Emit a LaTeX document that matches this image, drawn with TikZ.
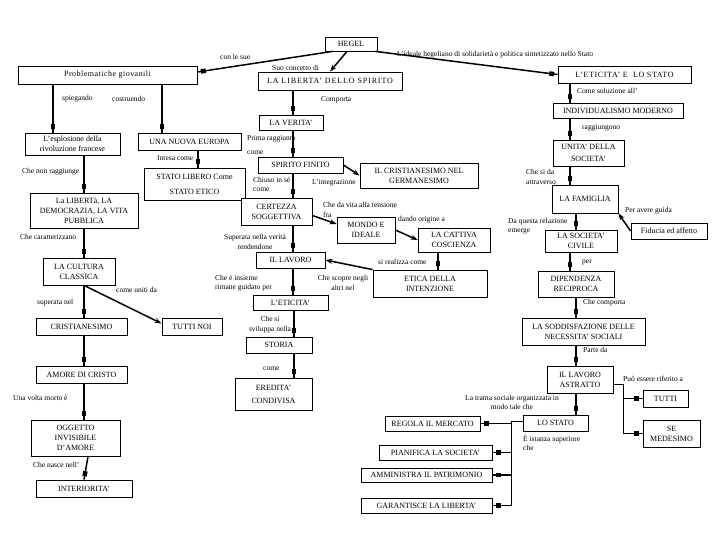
\documentclass[tikz,border=0pt]{standalone}
\usepackage{fontspec}
\setmainfont{Liberation Serif}
\usetikzlibrary{arrows.meta,decorations.markings}

\begin{document}
\begin{tikzpicture}[
        x=1pt, y=-1pt, % coordinate come pixel, y verso il basso
        box/.style={draw, line width=0.8pt, fill=white, align=center, inner sep=1pt,
            font=\fontsize{8}{10}\selectfont}, % Stile dei concetti
        spaced/.style={font=\fontsize{8}{10}\selectfont\addfontfeatures{LetterSpace=#1}},
        lab/.style={anchor=west, align=left, inner sep=0pt,
            font=\fontsize{7.5}{9.5}\selectfont}, % Frasi di collegamento
        link/.style={line width=1.5pt, postaction={decorate, decoration={markings,
            mark=at position -6pt with {\fill (-2.5pt,-2.2pt) rectangle (2.5pt,2.2pt);}}}},
        arr/.style={line width=1.5pt, -{Stealth[length=7pt,width=5pt]}},
        trunk/.style={line width=0.8pt},
    ]
    \fill[white] (0,0) rectangle (720,540);
    \useasboundingbox (0,0) rectangle (720,540);

    % concetti
    \node[box, minimum width=52pt, minimum height=14pt] (hegel) at (351,44) {HEGEL};
    \node[box, spaced=6, minimum width=179pt, minimum height=18pt] (prob) at (107.5,75) {Problematiche giovanili};
    \node[box, spaced=11, minimum width=144pt, minimum height=18pt] (libspirito) at (330,81) {LA LIBERTA' DELLO SPIRITO};
    \node[box, spaced=8, minimum width=133pt, minimum height=17pt] (eticstato) at (624.5,74.5) {L'ETICITA' E \ LO STATO};
    \node[box, minimum width=95pt, minimum height=22pt] (esplosione) at (72.5,144) {L'esplosione della\\rivoluzione francese};
    \node[box, minimum width=103pt, minimum height=17pt] (europa) at (189.5,141.5) {UNA NUOVA EUROPA};
    \node[box, minimum width=64pt, minimum height=15pt] (verita) at (291,122.5) {LA VERITA'};
    \node[box, minimum width=130pt, minimum height=15pt] (individ) at (618,110.5) {INDIVIDUALISMO MODERNO};
    \node[box, minimum width=71pt, minimum height=26pt] (unita) at (588.5,153) {UNITA' DELLA\\[2pt]SOCIETA'};
    \node[box, minimum width=101pt, minimum height=32pt] (statolibero) at (194.5,184) {STATO LIBERO Come\\[5pt]STATO ETICO};
    \node[box, minimum width=85pt, minimum height=16pt] (spiritofinito) at (300.5,165) {SPIRITO FINITO};
    \node[box, minimum width=118pt, minimum height=25pt] (germanesimo) at (419,175.5) {IL CRISTIANESIMO NEL\\GERMANESIMO};
    \node[box, minimum width=108pt, minimum height=35pt] (liberta) at (84,210.5) {La LIBERTà, LA\\DEMOCRAZIA, LA VITA\\PUBBLICA};
    \node[box, minimum width=71pt, minimum height=27pt] (certezza) at (276.5,211.5) {CERTEZZA\\SOGGETTIVA};
    \node[box, minimum width=58pt, minimum height=26pt] (mondo) at (366,230) {MONDO E\\IDEALE};
    \node[box, minimum width=72pt, minimum height=24pt] (cattiva) at (454,240) {LA CATTIVA\\COSCIENZA};
    \node[box, minimum width=66pt, minimum height=28pt] (famiglia) at (585,199) {LA FAMIGLIA};
    \node[box, minimum width=76pt, minimum height=16pt] (fiducia) at (669,231) {Fiducia ed affetto};
    \node[box, minimum width=72pt, minimum height=22pt] (civile) at (581,241) {LA SOCIETA'\\CIVILE};
    \node[box, minimum width=72pt, minimum height=27pt] (cultura) at (79,271.5) {LA CULTURA\\CLASSICA};
    \node[box, minimum width=69pt, minimum height=16pt] (lavoro) at (290.5,260) {IL LAVORO};
    \node[box, minimum width=114pt, minimum height=27pt] (etica) at (430,283.5) {ETICA DELLA\\INTENZIONE};
    \node[box, minimum width=76pt, minimum height=26pt] (dipendenza) at (576,284) {DIPENDENZA\\RECIPROCA};
    \node[box, minimum width=75pt, minimum height=15pt] (eticita) at (290.5,302.5) {L'ETICITA'};
    \node[box, minimum width=91pt, minimum height=17pt] (cristianesimo) at (81.5,326.5) {CRISTIANESIMO};
    \node[box, minimum width=60pt, minimum height=17pt] (tuttinoi) at (192,326.5) {TUTTI NOI};
    \node[box, minimum width=123pt, minimum height=27pt] (soddisfazione) at (583.5,331.5) {LA SODDISFAZIONE DELLE\\NECESSITA' SOCIALI};
    \node[box, minimum width=66pt, minimum height=16pt] (storia) at (279,345) {STORIA};
    \node[box, minimum width=91pt, minimum height=17pt] (amore) at (81.5,374.5) {AMORE DI CRISTO};
    \node[box, minimum width=66pt, minimum height=27pt] (astratto) at (580,379.5) {IL LAVORO\\ASTRATTO};
    \node[box, minimum width=77pt, minimum height=32pt] (eredita) at (273.5,394) {EREDITA'\\[3pt]CONDIVISA};
    \node[box, minimum width=45pt, minimum height=17pt] (tutti) at (665.5,398.5) {TUTTI};
    \node[box, minimum width=57pt, minimum height=27pt] (medesimo) at (671.5,433.5) {SE\\MEDESIMO};
    \node[box, minimum width=89pt, minimum height=36pt] (oggetto) at (75.5,438) {OGGETTO\\INVISIBILE\\D'AMORE};
    \node[box, minimum width=65pt, minimum height=16pt] (lostato) at (555.5,423) {LO STATO};
    \node[box, minimum width=95pt, minimum height=15pt] (regola) at (432.5,423.5) {REGOLA IL MERCATO};
    \node[box, minimum width=113pt, minimum height=15pt] (pianifica) at (435.5,452.5) {PIANIFICA LA SOCIETA'};
    \node[box, minimum width=131pt, minimum height=14pt] (amministra) at (426.5,475) {AMMINISTRA IL PATRIMONIO};
    \node[box, minimum width=131pt, minimum height=15pt] (garantisce) at (426.5,505.5) {GARANTISCE LA LIBERTA'};
    \node[box, minimum width=96pt, minimum height=17pt] (interiorita) at (84,488.5) {INTERIORITA'};

    % frasi di collegamento
    \node[lab] (conlesue) at (220,57) {con le sue};
    \node[lab] (ideale) at (397,55) {L'ideale hegeliano di solidarietà e politica sintetizzato nello Stato};
    \node[lab] (concetto) at (272,68) {Suo concetto di};
    \node[lab] (spiegando) at (62,99) {spiegando};
    \node[lab] (costruendo) at (112,99) {costruendo};
    \node[lab] (comporta) at (321,100) {Comporta};
    \node[lab] (soluzione) at (577,91) {Come soluzione all'};
    \node[lab] (raggiungono) at (582,128) {raggiungono};
    \node[lab] (intesa) at (157,158) {Intesa come};
    \node[lab] (primaragg) at (247,145) {Prima raggiunta\\[4pt]come};
    \node[lab] (chiuso) at (253,184.5) {Chiuso in sé\\come};
    \node[lab] (integra) at (312,183) {L'integrazione};
    \node[lab] (nonragg) at (22,172) {Che non raggiunge};
    \node[lab] (sida) at (526,177) {Che si da\\attraverso};
    \node[lab] (tensione) at (323,210) {Che da vita alla tensione\\fra};
    \node[lab] (origine) at (398,220) {dando origine a};
    \node[lab] (guida) at (625,211) {Per avere guida};
    \node[lab] (relazione) at (508,226) {Da questa relazione\\emerge};
    \node[lab] (caratterizzano) at (20,237) {Che caratterizzano};
    \node[lab, anchor=center, align=center] (superata) at (255,242) {Superata nella verità\\rendendone};
    \node[lab] (realizza) at (378,262) {si realizza come};
    \node[lab] (per) at (582,263) {per};
    \node[lab] (insieme) at (215,283) {Che è insieme\\rimane guidato per};
    \node[lab, anchor=center, align=center] (scopre) at (343,283) {Che scopre negli\\altri nel};
    \node[lab] (unitida) at (116,290) {come uniti da};
    \node[lab] (comporta2) at (583,303) {Che comporta};
    \node[lab] (superatanel) at (37,303) {superata nel};
    \node[lab, anchor=center, align=center] (sisviluppa) at (270,324.5) {Che si\\sviluppa nella};
    \node[lab] (parteda) at (583,350) {Parte da};
    \node[lab] (come) at (263,369) {come};
    \node[lab] (riferito) at (623,379) {Può essere riferito a};
    \node[lab, anchor=center, align=center] (trama) at (512,402.5) {La trama sociale organizzata in\\modo tale che};
    \node[lab] (istanza) at (523,443) {È istanza superiore\\che};
    \node[lab] (mortoe) at (13,398) {Una volta morto è};
    \node[lab] (nasce) at (33,465) {Che nasce nell'};

    % collegamenti da HEGEL
    \draw[link] ([xshift=8pt]hegel.south west) -- ([yshift=3pt]prob.east);
    \draw[link] ([xshift=-2pt]hegel.south east) -- (eticstato.west);
    \draw[arr] ([xshift=-4pt]hegel.south) -- (libspirito.north);

    % ramo sinistro
    \draw[link] (prob.south -| 53,0) -- (esplosione.north -| 53,0);
    \draw[link] (prob.south -| 162,0) -- (europa.north -| 162,0);
    \draw[link] (europa.south -| 198,0) -- (statolibero.north -| 198,0);
    \draw[link] (esplosione.south -| 84,0) -- (liberta.north -| 84,0);
    \draw[link] (liberta.south -| 84,0) -- (cultura.north -| 84,0);
    \draw[link] (cultura.south -| 84,0) -- (cristianesimo.north -| 84,0);
    \draw[arr] (cultura.south -| 84,0) -- ([yshift=3pt]tuttinoi.west);
    \draw[link] (cristianesimo.south -| 84,0) -- (amore.north -| 84,0);
    \draw[link] (amore.south -| 84,0) -- (oggetto.north -| 84,0);
    \draw[link] (oggetto.south -| 88,0) -- (interiorita.north -| 84,0);

    % ramo centrale
    \draw[link] (libspirito.south -| 293,0) -- (verita.north -| 293,0);
    \draw[link] (verita.south -| 293,0) -- (spiritofinito.north -| 293,0);
    \draw[arr] (spiritofinito.east) -- (germanesimo.west);
    \draw[link] (spiritofinito.south -| 293,0) -- (certezza.north -| 293,0);
    \draw[arr] ([yshift=-4pt]certezza.east) -- ([yshift=6pt]mondo.west);
    \draw[arr] (mondo.east) -- (cattiva.west);
    \draw[link] (cattiva.south -| 438,0) -- (etica.north -| 438,0);
    \draw[arr] (etica.north west) -- (lavoro.east);
    \draw[link] (certezza.south -| 293,0) -- (lavoro.north -| 293,0);
    \draw[link] (lavoro.south -| 293,0) -- (eticita.north -| 293,0);
    \draw[link] (eticita.south -| 294,0) -- (storia.north -| 294,0);
    \draw[link] (storia.south -| 294,0) -- (eredita.north -| 294,0);

    % ramo destro
    \draw[link] (eticstato.south -| 570,0) -- (individ.north -| 570,0);
    \draw[link] (individ.south -| 570,0) -- (unita.north -| 570,0);
    \draw[link] (unita.south -| 570,0) -- (famiglia.north -| 570,0);
    \draw[link] (famiglia.south -| 576,0) -- (civile.north -| 576,0);
    \draw[arr] (fiducia.west) -- (famiglia.south east);
    \draw[link] (civile.south -| 570,0) -- (dipendenza.north -| 570,0);
    \draw[link] (dipendenza.south -| 576,0) -- (soddisfazione.north -| 576,0);
    \draw[link] (soddisfazione.south -| 576,0) -- (astratto.north -| 576,0);
    \draw[link] (astratto.south -| 576,0) -- (lostato.north -| 576,0);

    \coordinate (bivio) at (623,384);
    \draw[trunk] (astratto.east |- bivio) -- (bivio) -- (bivio |- medesimo.west);
    \draw[link] (bivio |- tutti.west) -- (tutti.west);
    \draw[link] (bivio |- medesimo.west) -- (medesimo.west);

    \coordinate (snodo) at (511,421);
    \draw[trunk] (lostato.west |- snodo) -- (snodo) -- (snodo |- garantisce.east);
    \draw[link] (snodo |- regola.east) -- (regola.east);
    \draw[link] (snodo |- pianifica.east) -- (pianifica.east);
    \draw[link] (snodo |- amministra.east) -- (amministra.east);
    \draw[link] (snodo |- garantisce.east) -- (garantisce.east);
\end{tikzpicture}
\end{document}
